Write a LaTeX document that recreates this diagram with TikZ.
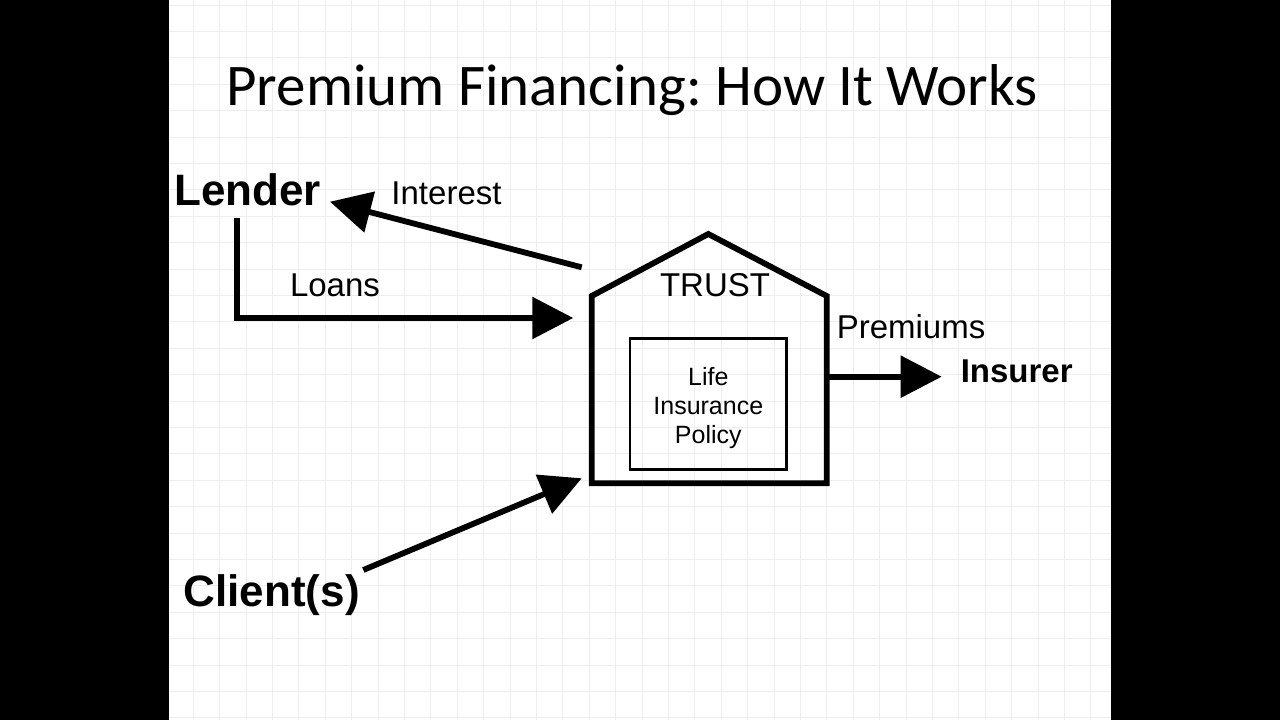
\documentclass[tikz,border=0pt]{standalone}
\usepackage{fontspec}
\setmainfont{Liberation Sans}
\newfontfamily\titlefont{Carlito}
\usetikzlibrary{arrows.meta}
\definecolor{gridc}{HTML}{EDEDED}
\frenchspacing
\begin{document}
\begin{tikzpicture}[x=1pt,y=-1pt,
  arr/.style={line width=5.8pt, line join=miter, -{Triangle[length=41pt,width=41pt]}},
  lbl/.style={font=\fontsize{33}{38}\selectfont, inner sep=0pt, anchor=base},
  ent/.style={font=\fontsize{44}{50}\selectfont\bfseries, inner sep=0pt, anchor=base},
  wall/.style={line width=5.8pt, line join=miter},
  gridline/.style={draw=gridc, line width=1pt}]
\useasboundingbox (0,0) rectangle (1280,720);
\fill[black] (0,0) rectangle (1280,720);
\fill[white] (169,0) rectangle (1111,720);
\begin{scope}
  \clip (169,0) rectangle (1111,720);
  \foreach \i in {0,...,36} \draw[gridline] (166.9+26.4*\i,0) -- (166.9+26.4*\i,720);
  \foreach \j in {0,...,27} \draw[gridline] (169,5.1+26.4*\j) -- (1111,5.1+26.4*\j);
\end{scope}

% title
\node[inner sep=0pt, anchor=base, font=\titlefont\fontsize{59}{70}\selectfont] (title) at (632,105) {Premium Financing: How It Works};

% house (trust)
\coordinate (hbl) at (591.7,483.3);
\coordinate (hl) at (591.7,296);
\coordinate (hpeak) at (708.3,234);
\coordinate (hr) at (826.7,296);
\coordinate (hbr) at (826.7,483.3);
\draw[wall] (hbl) -- (hl) -- (hpeak) -- (hr) -- (hbr) -- cycle;
\node[lbl] (trust) at (715,296) {TRUST};
\node[draw, line width=2.5pt, minimum width=156.7pt, minimum height=131pt, inner sep=0pt] (policy) at (708.3,403.8) {};
\node[inner sep=0pt, align=center, font=\fontsize{25}{29.3}\selectfont] (policytext) at (708.3,408) {Life\\Insurance\\Policy};

% entities
\node[ent] (lender) at (247.5,205) {Lender};
\node[ent] (client) at (271.7,606.7) {Client(s)};
\node[lbl, font=\fontsize{33}{38}\selectfont\bfseries] (insurer) at (1016.7,382.7) {Insurer};

% labels
\node[lbl] (interest) at (446.5,204.3) {Interest};
\node[lbl] (loans) at (335,296.7) {Loans};
\node[lbl] (premiums) at (911,338.3) {Premiums};

% connector end points
\coordinate (loanStart) at (236.7,218);
\coordinate (loanCorner) at (236.7,318);
\coordinate (loanEnd) at (573.3,318);
\coordinate (intStart) at (581.7,267.3);
\coordinate (intEnd) at (330,201.7);
\coordinate (cliStart) at (363.3,570);
\coordinate (cliEnd) at (581.7,478.3);
\coordinate (premStart) at (826.7,376.7);
\coordinate (premEnd) at (941.7,376.7);

\draw[arr] (loanStart) -- (loanCorner) -- (loanEnd);
\draw[arr] (intStart) -- (intEnd);
\draw[arr] (cliStart) -- (cliEnd);
\draw[arr] (premStart) -- (premEnd);
\end{tikzpicture}
\end{document}
